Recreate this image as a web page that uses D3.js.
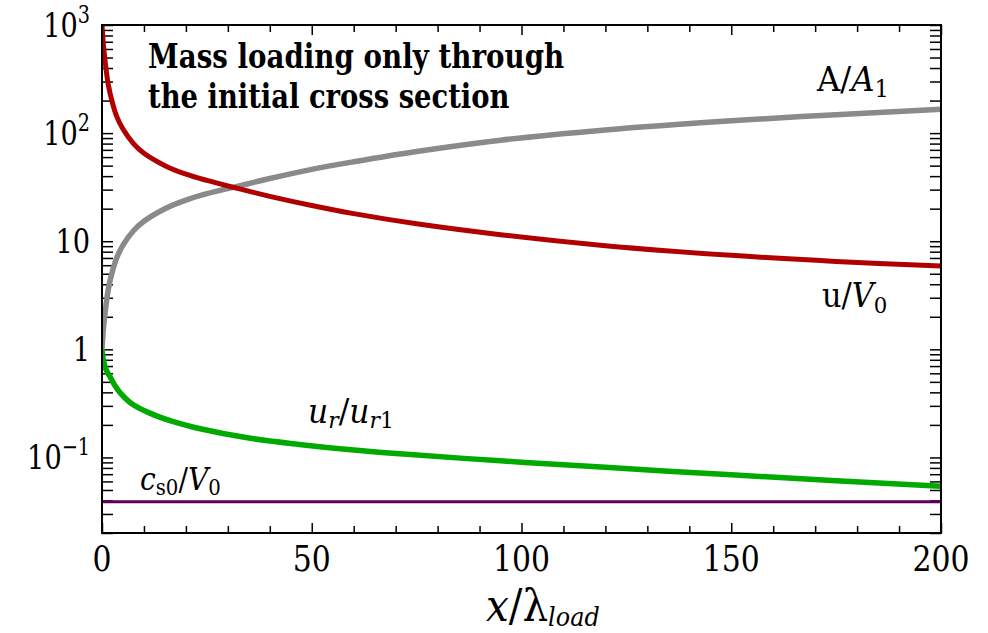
<!DOCTYPE html>
<html>
<head>
<meta charset="utf-8">
<script src="https://cdn.jsdelivr.net/npm/d3@7"></script>
<style>
  html, body { margin: 0; padding: 0; background: #fff; }
  svg { display: block; }
  svg text { font-family: "DejaVu Serif", serif; fill: #000; }
</style>
</head>
<body>
<svg id="chart" width="988" height="633"></svg>
<script>
// ---- data ----
const uX  = [0, 0.3, 0.7, 1.5, 2.5, 3.5, 5, 7.5, 10, 15, 20, 25, 32, 40, 50, 60, 75, 95, 120, 150, 175, 200];
const uV  = [1000, 680, 480, 280, 190, 143, 109, 80, 65, 50, 41.7, 36.5, 31, 26, 21.4, 18, 14.5, 11.5, 9.1, 7.4, 6.5, 5.9];
const aX  = [0, 0.3, 0.7, 1.5, 2.5, 3.5, 5, 7.5, 10, 15, 20, 25, 32, 40, 50, 60, 75, 95, 120, 150, 175, 200];
const aV  = [1, 1.5, 2.1, 3.6, 5.3, 7.0, 9.2, 12.5, 15.3, 20, 24, 27.5, 32, 38, 46.2, 54.3, 67.6, 86, 107, 130, 148, 166];
const rX  = [0, 0.3, 1, 1.9, 3, 4.3, 7, 11.4, 17, 23.4, 35, 47, 60, 71, 95, 120, 150, 175, 200];
const rV  = [1, 0.8, 0.646, 0.56, 0.468, 0.398, 0.316, 0.257, 0.214, 0.184, 0.151, 0.132, 0.117, 0.108, 0.093, 0.081, 0.069, 0.061, 0.054];
const cX  = [0, 200];
const cV  = [0.039, 0.039];
const xTickLabels = [0, 50, 100, 150, 200];
const yMajor = [{v: 1000, b: "10", e: "3"}, {v: 100, b: "10", e: "2"}, {v: 10, b: "10", e: ""},
                {v: 1, b: "1", e: ""}, {v: 0.1, b: "10", e: "\u22121"}];

// ---- layout ----
const L = 102, R = 941, T = 25, B = 533;
const svg = d3.select("#chart");
const x = d3.scaleLinear().domain([0, 200]).range([L, R]);
const y = d3.scaleLog().domain([0.02, 1000]).range([B, T]);

const xMinor = d3.range(0, 201, 10).filter(d => d % 50 !== 0);
const xMaj = d3.range(0, 201, 50);
const yTicks = [];
[0.01, 0.1, 1, 10, 100].forEach(d => { for (let k = 1; k <= 9; k++) { const v = +(k * d).toPrecision(3); if (v >= 0.02 && v <= 1000) yTicks.push(v); } });
yTicks.push(1000);

function styleAxis(g) {
  g.select(".domain").remove();
  g.selectAll("line").attr("stroke", "#000").attr("stroke-width", 1.5);
  g.selectAll("text").remove();
}
svg.append("g").attr("transform", `translate(0,${B})`).call(d3.axisBottom(x).tickValues(xMinor).tickSize(-7)).call(styleAxis);
svg.append("g").attr("transform", `translate(0,${B})`).call(d3.axisBottom(x).tickValues(xMaj).tickSize(-10)).call(styleAxis);
svg.append("g").attr("transform", `translate(0,${T})`).call(d3.axisTop(x).tickValues(xMinor).tickSize(-7)).call(styleAxis);
svg.append("g").attr("transform", `translate(0,${T})`).call(d3.axisTop(x).tickValues(xMaj).tickSize(-10)).call(styleAxis);
svg.append("g").attr("transform", `translate(${L},0)`).call(d3.axisLeft(y).tickValues(yTicks).tickSize(-11)).call(styleAxis);
svg.append("g").attr("transform", `translate(${R},0)`).call(d3.axisRight(y).tickValues(yTicks).tickSize(-11)).call(styleAxis);

// lines
const line = d3.line().x(d => x(d[0])).y(d => y(d[1])).curve(d3.curveCatmullRom.alpha(0.5));
const series = [
  {xs: cX, vs: cV, color: "#5c005c", w: 3},
  {xs: rX, vs: rV, color: "#00aa00", w: 5.5},
  {xs: aX, vs: aV, color: "#8a8a8a", w: 5.5},
  {xs: uX, vs: uV, color: "#b00000", w: 5}
];
svg.append("clipPath").attr("id", "clip").append("rect").attr("x", L).attr("y", T - 1).attr("width", R - L + 3).attr("height", B - T + 2);
series.forEach(s => {
  svg.append("path").datum(s.xs.map((d, i) => [d, s.vs[i]]))
    .attr("d", line).attr("fill", "none").attr("stroke", s.color)
    .attr("stroke-width", s.w).attr("clip-path", "url(#clip)");
});

// frame
svg.append("rect").attr("x", L).attr("y", T).attr("width", R - L).attr("height", B - T)
  .attr("fill", "none").attr("stroke", "#000").attr("stroke-width", 2);

// x tick labels
svg.append("g").selectAll("text").data(xTickLabels).join("text")
  .attr("transform", d => `translate(${x(d)},571) scale(0.83,1)`).attr("text-anchor", "middle")
  .attr("font-size", 36).text(d => d);

// y tick labels
yMajor.forEach(m => {
  const t = svg.append("text").attr("transform", `translate(90,${y(m.v) + 12}) scale(0.8,1)`)
    .attr("text-anchor", "end").attr("font-size", 34);
  t.append("tspan").text(m.b);
  if (m.e) t.append("tspan").attr("font-size", 24).attr("dy", -14).text(m.e);
});

// x axis title
const xt = svg.append("text").attr("transform", "translate(486,621) scale(0.92,1)").attr("font-size", 44);
xt.append("tspan").attr("font-style", "italic").text("x");
xt.append("tspan").text("/\u03BB");
xt.append("tspan").attr("font-style", "italic").attr("font-size", 26).attr("dy", 5).text("load");

// annotation
svg.append("text").attr("transform", "translate(148,68) scale(0.84,1)").attr("font-size", 33).attr("font-weight", "bold").text("Mass loading only through");
svg.append("text").attr("transform", "translate(148,108) scale(0.83,1)").attr("font-size", 33).attr("font-weight", "bold").text("the initial cross section");

// curve labels
function label(xp, yp, parts, fs, sx) {
  const t = svg.append("text").attr("transform", `translate(${xp},${yp}) scale(${sx},1)`).attr("font-size", fs);
  parts.forEach(p => {
    const s = t.append("tspan").text(p.t);
    if (p.i) s.attr("font-style", "italic");
    if (p.sub) s.attr("font-size", fs * 0.7);
    if (p.dy) s.attr("dy", p.dy);
  });
}
label(817, 91, [{t: "A/"}, {t: "A", i: true}, {t: "1", sub: true, dy: 6}], 34, 0.95);
label(822, 307, [{t: "u/"}, {t: "V", i: true}, {t: "0", sub: true, dy: 6}], 33, 0.92);
label(308, 423, [{t: "u", i: true}, {t: "r", i: true, sub: true, dy: 5}, {t: "/", dy: -5}, {t: "u", i: true}, {t: "r", i: true, sub: true, dy: 5}, {t: "1", sub: true}], 33, 0.95);
label(140, 490, [{t: "c", i: true}, {t: "s0", sub: true, dy: 5}, {t: "/", dy: -5}, {t: "V", i: true}, {t: "0", sub: true, dy: 5}], 32, 0.88);
</script>
</body>
</html>
